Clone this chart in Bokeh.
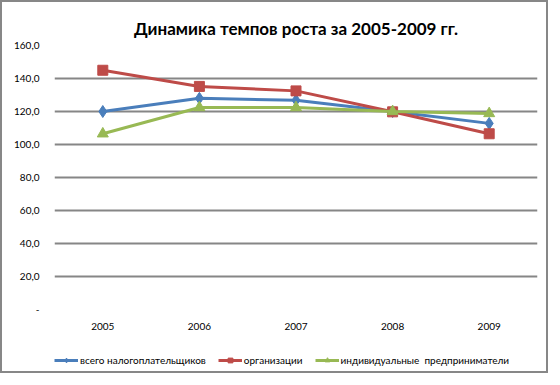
from bokeh.plotting import figure
from bokeh.embed import file_html
from bokeh.resources import INLINE
from bokeh.layouts import column
from bokeh.models import Legend, LegendItem, FixedTicker, Range1d

years = ["2005", "2006", "2007", "2008", "2009"]
total = [120.0, 128.0, 126.8, 120.0, 112.8]
orgs = [145.0, 135.2, 132.5, 119.8, 106.5]
indiv = [106.5, 122.4, 122.4, 120.0, 118.8]
y_ticks = [0, 20, 40, 60, 80, 100, 120, 140, 160]
y_labels = ["-", "20,0", "40,0", "60,0", "80,0", "100,0", "120,0", "140,0", "160,0"]
series_names = ["всего налогоплательщиков", "организации", "индивидуальные  предприниматели"]
chart_title = "Динамика темпов роста за 2005-2009 гг."

BLUE = "#4A7EBB"
RED = "#BE4B48"
GREEN = "#98B954"
GRID = "#868686"
FONT = "Lato"

p = figure(width=544, height=335, x_range=years, y_range=Range1d(0, 160),
           output_backend="svg", toolbar_location=None, title=chart_title,
           min_border_left=52, min_border_right=9, min_border_top=43, min_border_bottom=28)
p.outline_line_color = None
p.background_fill_color = "white"
p.border_fill_color = "white"

p.title.align = "center"
p.title.offset = -43
p.title.standoff = 14
p.title.text_font = FONT
p.title.text_font_size = "17px"
p.title.text_font_style = "bold"
p.title.text_color = "#000000"

p.xgrid.grid_line_color = None
p.ygrid.grid_line_color = GRID
p.ygrid.grid_line_width = 2
p.yaxis.ticker = FixedTicker(ticks=y_ticks)
p.yaxis.major_label_overrides = {t_: l for t_, l in zip(y_ticks, y_labels)}
for ax in (p.xaxis, p.yaxis):
    ax.axis_line_color = None
    ax.major_tick_line_color = None
    ax.minor_tick_line_color = None
    ax.major_label_text_font = FONT
    ax.major_label_text_font_size = "10px"
    ax.major_label_text_color = "#000000"
p.yaxis.major_label_standoff = 9
p.xaxis.major_label_standoff = 7

p.line(years, total, line_color=BLUE, line_width=3)
p.scatter(years, total, marker="diamond", size=12, fill_color=BLUE, line_color=BLUE)
p.line(years, orgs, line_color=RED, line_width=3)
p.scatter(years, orgs, marker="square", size=10, fill_color=RED, line_color=RED)
p.line(years, indiv, line_color=GREEN, line_width=3)
p.scatter(years, indiv, marker="triangle", size=11, fill_color=GREEN, line_color=GREEN)

# legend strip
lp = figure(width=544, height=34, x_range=Range1d(0, 1), y_range=Range1d(0, 1),
            output_backend="svg", toolbar_location=None,
            x_axis_type=None, y_axis_type=None,
            min_border_left=52, min_border_right=9, min_border_top=0, min_border_bottom=0)
lp.outline_line_color = None
lp.grid.visible = False
lp.background_fill_color = "white"
lp.border_fill_color = "white"

nan = float("nan")
items = []
for name, color, marker, size in zip(series_names, [BLUE, RED, GREEN],
                                      ["diamond", "square", "triangle"], [12, 10, 11]):
    rl = lp.line([nan, nan], [nan, nan], line_color=color, line_width=3)
    rm = lp.scatter([nan], [nan], marker=marker, size=size, fill_color=color, line_color=color)
    items.append(LegendItem(label=name, renderers=[rl, rm]))

legend = Legend(items=items, orientation="horizontal", location=(0, 5), margin=0,
                label_text_font=FONT, label_text_font_size="10px", label_text_color="#000000",
                glyph_width=24, glyph_height=12, label_standoff=2, spacing=12,
                padding=4, border_line_color=None, background_fill_alpha=0)
lp.add_layout(legend, "center")

layout = column(p, lp, spacing=0)
layout.styles = {"border": "2px solid #878787"}

open("out.html", "w").write(file_html(layout, INLINE))
